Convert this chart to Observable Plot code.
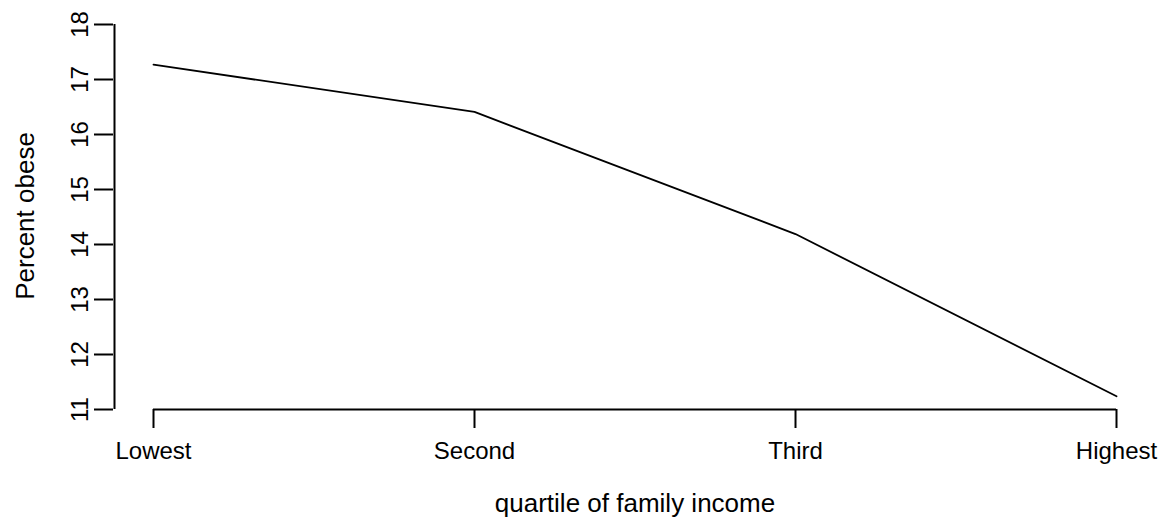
<!DOCTYPE html>
<html><head><meta charset="utf-8">
<script src="https://cdn.jsdelivr.net/npm/d3@7"></script>
<script src="https://cdn.jsdelivr.net/npm/@observablehq/plot@0.6"></script>
<style>body{margin:0;background:#fff}</style>
</head><body><div id="chart"></div>
<script>
const categories = ["Lowest", "Second", "Third", "Highest"];
const percentObese = [17.27, 16.41, 14.19, 11.24];
const yTicks = [11, 12, 13, 14, 15, 16, 17, 18];
const xLabel = "quartile of family income";
const yLabel = "Percent obese";

const data = categories.map((c, i) => ({quartile: c, pct: percentObese[i]}));
const font = "'Liberation Sans', Arial, Helvetica, sans-serif";
const first = categories[0], last = categories[categories.length - 1];

const chart = Plot.plot({
  width: 1161, height: 518,
  marginLeft: 152, marginRight: 44, marginTop: 24, marginBottom: 109,
  style: {fontFamily: font, fontSize: "24px", background: "#fff", color: "#000"},
  x: {type: "point", domain: categories, padding: 0, axis: null},
  y: {domain: [yTicks[0], yTicks[yTicks.length - 1]], axis: null},
  marks: [
    Plot.line(data, {x: "quartile", y: "pct", stroke: "black", strokeWidth: 1.8}),
    Plot.ruleX([first], {x: d => d, y1: yTicks[0], y2: yTicks[yTicks.length - 1], dx: -39, stroke: "black", strokeWidth: 2}),
    Plot.axisY(yTicks, {anchor: "left", tickSize: 19, dx: -39, fill: "none", label: null, strokeWidth: 2}),
    Plot.text(yTicks, {y: d => d, text: d => String(d), frameAnchor: "left", dx: -72.2, rotate: -90, textAnchor: "middle", lineAnchor: "middle", fontSize: 24, fill: "black"}),
    Plot.ruleY([yTicks[0]], {y: d => d, x1: () => first, x2: () => last, stroke: "black", strokeWidth: 2}),
    Plot.axisX(categories, {anchor: "bottom", tickSize: 19, tickPadding: 13.3, strokeWidth: 2, fontSize: 24, label: null, fill: "black"}),
    Plot.text([xLabel], {frameAnchor: "bottom", dy: 94.4, lineAnchor: "middle", textAnchor: "middle", fontSize: 26, fill: "black"}),
    Plot.text([yLabel], {frameAnchor: "left", dx: -127, dy: -1, rotate: -90, lineAnchor: "middle", textAnchor: "middle", fontSize: 26, fill: "black"})
  ]
});
document.getElementById("chart").appendChild(chart);
</script>
</body></html>
